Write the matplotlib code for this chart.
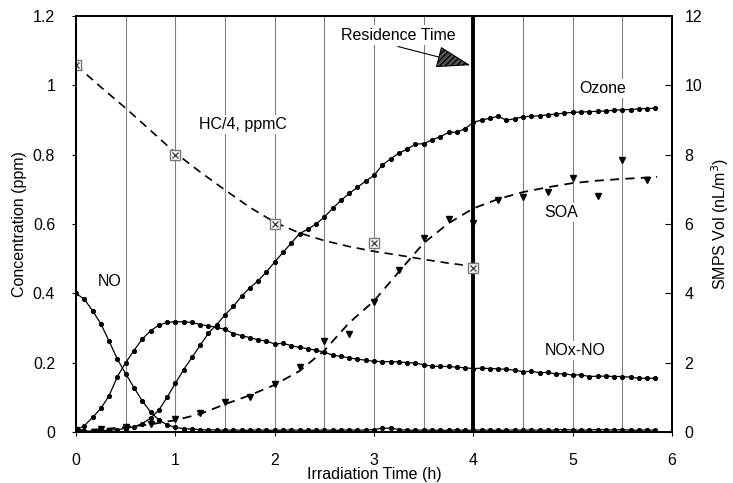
import numpy as np
import matplotlib
matplotlib.use('Agg')
import matplotlib.pyplot as plt

plt.rcParams['font.family'] = ['Liberation Sans', 'DejaVu Sans']

# 5-minute readings (hours)
time_h = np.arange(71) * 5 / 60.0

no_ppm = [0.400, 0.383, 0.350, 0.312, 0.262, 0.210, 0.168, 0.128, 0.090, 0.058,
          0.035, 0.021, 0.013, 0.010, 0.008, 0.007, 0.006, 0.006, 0.005, 0.006,
          0.005, 0.005, 0.006, 0.005, 0.005, 0.005, 0.006, 0.005, 0.005, 0.005,
          0.006, 0.005, 0.005, 0.006, 0.005, 0.006, 0.007, 0.011, 0.011, 0.007,
          0.005, 0.005, 0.006, 0.005, 0.005, 0.005, 0.006, 0.005, 0.005, 0.006,
          0.005, 0.005, 0.005, 0.006, 0.005, 0.006, 0.005, 0.005, 0.006, 0.007,
          0.006, 0.005, 0.006, 0.007, 0.006, 0.006, 0.007, 0.005, 0.005, 0.006,
          0.005]

noxno_ppm = [0.005, 0.018, 0.042, 0.068, 0.105, 0.160, 0.200, 0.235, 0.268, 0.292,
             0.308, 0.316, 0.318, 0.318, 0.316, 0.310, 0.306, 0.302, 0.296, 0.284,
             0.278, 0.272, 0.266, 0.262, 0.254, 0.256, 0.249, 0.244, 0.240, 0.236,
             0.230, 0.222, 0.218, 0.214, 0.210, 0.207, 0.204, 0.203, 0.203, 0.202,
             0.200, 0.199, 0.194, 0.190, 0.189, 0.189, 0.187, 0.185, 0.183, 0.184,
             0.183, 0.182, 0.181, 0.178, 0.174, 0.175, 0.171, 0.172, 0.167, 0.168,
             0.164, 0.165, 0.160, 0.161, 0.161, 0.160, 0.160, 0.158, 0.155, 0.155,
             0.155]

ozone_ppm = [0.003, 0.002, 0.003, 0.004, 0.005, 0.007, 0.010, 0.015, 0.024, 0.040,
             0.063, 0.100, 0.140, 0.180, 0.215, 0.250, 0.285, 0.310, 0.338, 0.362,
             0.392, 0.416, 0.436, 0.462, 0.490, 0.518, 0.545, 0.572, 0.585, 0.600,
             0.620, 0.645, 0.668, 0.688, 0.706, 0.724, 0.740, 0.770, 0.788, 0.804,
             0.816, 0.830, 0.832, 0.842, 0.852, 0.864, 0.865, 0.875, 0.893, 0.900,
             0.905, 0.911, 0.899, 0.904, 0.909, 0.911, 0.912, 0.915, 0.917, 0.920,
             0.922, 0.923, 0.924, 0.925, 0.926, 0.928, 0.930, 0.930, 0.932, 0.933,
             0.934]

# hydrocarbon samples (HC/4, ppmC) and smooth fit
hc_time = [0, 1, 2, 3, 4]
hc_ppmc = [1.058, 0.800, 0.600, 0.545, 0.472]
hc_fit_time = [0, 0.25, 0.5, 0.75, 1.0, 1.25, 1.5, 1.75, 2.0, 2.25, 2.5,
               2.75, 3.0, 3.25, 3.5, 3.75, 4.0]
hc_fit = [1.058, 0.995, 0.934, 0.870, 0.805, 0.750, 0.698, 0.648, 0.605,
          0.574, 0.552, 0.535, 0.521, 0.510, 0.498, 0.487, 0.478]

# SMPS aerosol volume (nL/m3) and fit
soa_time = [0, 0.25, 0.5, 0.75, 1.0, 1.25, 1.5, 1.75, 2.0, 2.25, 2.5, 2.75,
            3.0, 3.25, 3.5, 3.75, 4.0, 4.25, 4.5, 4.75, 5.0, 5.25, 5.5, 5.75]
soa_vol = [0.06, 0.10, 0.15, 0.22, 0.37, 0.54, 0.87, 1.02, 1.38, 1.88, 2.62, 2.82,
           3.75, 4.67, 5.59, 6.13, 6.04, 6.69, 6.77, 6.93, 7.32, 6.81, 7.85, 7.27]
soa_fit_time = [0, 0.25, 0.5, 0.75, 1.0, 1.25, 1.5, 1.75, 2.0, 2.25, 2.5, 2.75,
                3.0, 3.25, 3.5, 3.75, 4.0, 4.25, 4.5, 4.75, 5.0, 5.25, 5.5, 5.75, 5.85]
soa_fit = [0.05, 0.08, 0.14, 0.22, 0.34, 0.52, 0.80, 1.06, 1.36, 1.76, 2.35, 3.15,
           3.78, 4.62, 5.45, 6.02, 6.45, 6.72, 6.92, 7.06, 7.18, 7.25, 7.30, 7.34, 7.36]

residence_time = 4.0

fig = plt.figure(figsize=(7.33, 4.83), dpi=100)
ax = fig.add_axes([0.1037, 0.1056, 0.8131, 0.8613])
ax2 = ax.twinx()

ax.set_xlim(0, 6)
ax.set_ylim(0, 1.2)
ax2.set_ylim(0, 12)

# vertical half-hour grid
ax.set_xticks(np.arange(0, 6.01, 1))
ax.set_xticks(np.arange(0.5, 6, 1), minor=True)
ax.grid(axis='x', which='both', color='#808080', linewidth=0.8, zorder=0)
ax.tick_params(axis='x', which='minor', length=0)
ax.set_axisbelow(True)

ax.axvline(residence_time, color='black', linewidth=2.8, zorder=2)

dot = dict(color='black', linewidth=0.9, marker='o', markersize=2.7, zorder=3)
ax.plot(time_h, no_ppm, **dot)
ax.plot(time_h, noxno_ppm, **dot)
ax.plot(time_h, ozone_ppm, **dot)

ax.plot(hc_fit_time, hc_fit, color='black', linewidth=1.2,
        linestyle=(0, (5, 3.5)), zorder=3)
ax.plot(hc_time, hc_ppmc, linestyle='none', marker='s', markersize=7,
        markerfacecolor='white', markeredgecolor='#777777', markeredgewidth=1.0, zorder=4)
ax.plot(hc_time, hc_ppmc, linestyle='none', marker='x', markersize=5,
        color='#333333', markeredgewidth=0.9, zorder=5)

ax2.plot(soa_fit_time, soa_fit, color='black', linewidth=1.3,
         linestyle=(0, (5, 3.5)), zorder=3)
ax2.plot(soa_time, soa_vol, linestyle='none', marker='v', markersize=5,
         color='black', zorder=4)

# ticks and labels
ax.set_yticks([0, 0.2, 0.4, 0.6, 0.8, 1.0, 1.2])
ax.set_yticklabels(['0', '0.2', '0.4', '0.6', '0.8', '1', '1.2'])
ax.set_xticklabels([str(v) for v in range(7)])
ax.tick_params(axis='y', direction='out', length=3, pad=12, labelsize=11.5)
ax.tick_params(axis='x', which='major', direction='out', length=3, pad=12, labelsize=11.5)
ax2.set_yticks(np.arange(0, 13, 2))
ax2.tick_params(axis='y', direction='in', length=5, pad=9, labelsize=11.5)

for a in (ax, ax2):
    for s in a.spines.values():
        s.set_linewidth(1.4)

ax.text(-0.094, 0.5, 'Concentration (ppm)', rotation=90, ha='center', va='center',
        fontsize=11.5, transform=ax.transAxes)
ax.text(0.5, -0.103, 'Irradiation Time (h)', ha='center', va='center',
        fontsize=11.5, transform=ax.transAxes)
ax.text(1.0805, 0.5, 'SMPS Vol (nL/m$^3$)', rotation=90, ha='center', va='center',
        fontsize=11.5, transform=ax.transAxes)

box = dict(facecolor='white', edgecolor='none', pad=1.5)
lab = dict(ha='center', va='center', fontsize=11.5, zorder=6, bbox=box)
ax.text(1.68, 0.888, 'HC/4, ppmC', **lab)
ax.text(5.30, 0.992, 'Ozone', **lab)
ax.text(4.88, 0.632, 'SOA', **lab)
ax.text(5.03, 0.234, 'NOx-NO', **lab)
ax.text(0.34, 0.434, 'NO', **lab)
ax.text(3.24, 1.145, 'Residence Time', **lab)

ax.annotate('', xy=(3.97, 1.058), xytext=(3.24, 1.112),
            arrowprops=dict(arrowstyle='-|>,head_length=1.1,head_width=0.35',
                            mutation_scale=20, edgecolor='black', facecolor='#555555',
                            hatch='//////', linewidth=0.8, shrinkA=0, shrinkB=0),
            zorder=6)

fig.savefig('out.png', dpi=100)
